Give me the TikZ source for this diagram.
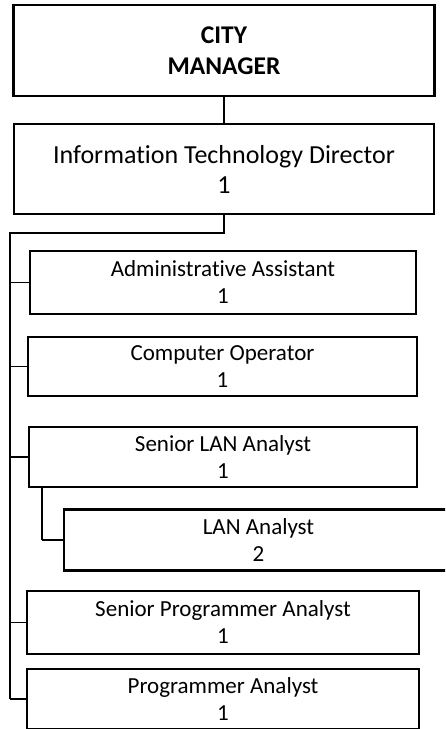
\documentclass[tikz,border=0pt]{standalone}
\usepackage{fontspec}
\setmainfont{Carlito}[Ligatures={NoCommon}]
\usetikzlibrary{calc}

\tikzset{
  box/.style={draw=black, line width=2.4pt, fill=white, inner sep=0pt,
              align=center, text=black},
  headtext/.style={font=\fontsize{25.5}{31}\selectfont\bfseries},
  dirtext/.style={font=\fontsize{26}{30}\selectfont},
  stafftext/.style={font=\fontsize{23}{27}\selectfont},
  thinlink/.style={draw=black, line width=1.2pt},
  thicklink/.style={draw=black, line width=2pt},
}

\begin{document}
\begin{tikzpicture}[x=1pt, y=-1pt]
  \useasboundingbox (0,0) rectangle (445,729);
  \clip (0,0) rectangle (445,729);
  \fill[white] (0,0) rectangle (445,729);

  % top of the hierarchy
  \node[box, headtext, minimum width=421pt, minimum height=91pt]
    (cm) at (224,50.5) {CITY\\MANAGER};
  \node[box, dirtext, minimum width=420pt, minimum height=90pt]
    (itd) at (224,169) {Information Technology Director\\1};

  % staff positions
  \node[box, stafftext, minimum width=386pt, minimum height=63pt]
    (admin) at (223,282.5) {Administrative Assistant\\1};
  \node[box, stafftext, minimum width=389pt, minimum height=59pt]
    (compop) at (222.5,366.5) {Computer Operator\\1};
  \node[box, stafftext, minimum width=388pt, minimum height=60pt]
    (srlan) at (223,457) {Senior LAN Analyst\\1};
  \node[box, stafftext, minimum width=389pt, minimum height=61pt]
    (lan) at (258.5,540) {LAN Analyst\\2};
  \node[box, stafftext, minimum width=392pt, minimum height=63pt]
    (srprog) at (223,622.5) {Senior Programmer Analyst\\1};
  \node[box, stafftext, minimum width=392pt, minimum height=60pt]
    (prog) at (223,699) {Programmer Analyst\\1};

  % connectors
  \coordinate (bus) at (10,233);
  \coordinate (lanbranch) at (42,486);

  \draw[thinlink] (cm.south -| itd.north) -- (itd.north);
  \draw[thicklink] (itd.south) |- (bus) -- (bus |- prog.west);
  \draw[thinlink] (bus |- admin.west) -- (admin.west);
  \draw[thinlink] (bus |- compop.west) -- (compop.west);
  \draw[thinlink] (bus |- srlan.west) -- (srlan.west);
  \draw[thinlink] (bus |- srprog.west) -- (srprog.west);
  \draw[thinlink] (bus |- prog.west) -- (prog.west);
  \draw[thicklink] (lanbranch) -- (lanbranch |- lan.west);
  \draw[thinlink] (lanbranch |- lan.west) -- (lan.west);
\end{tikzpicture}
\end{document}
